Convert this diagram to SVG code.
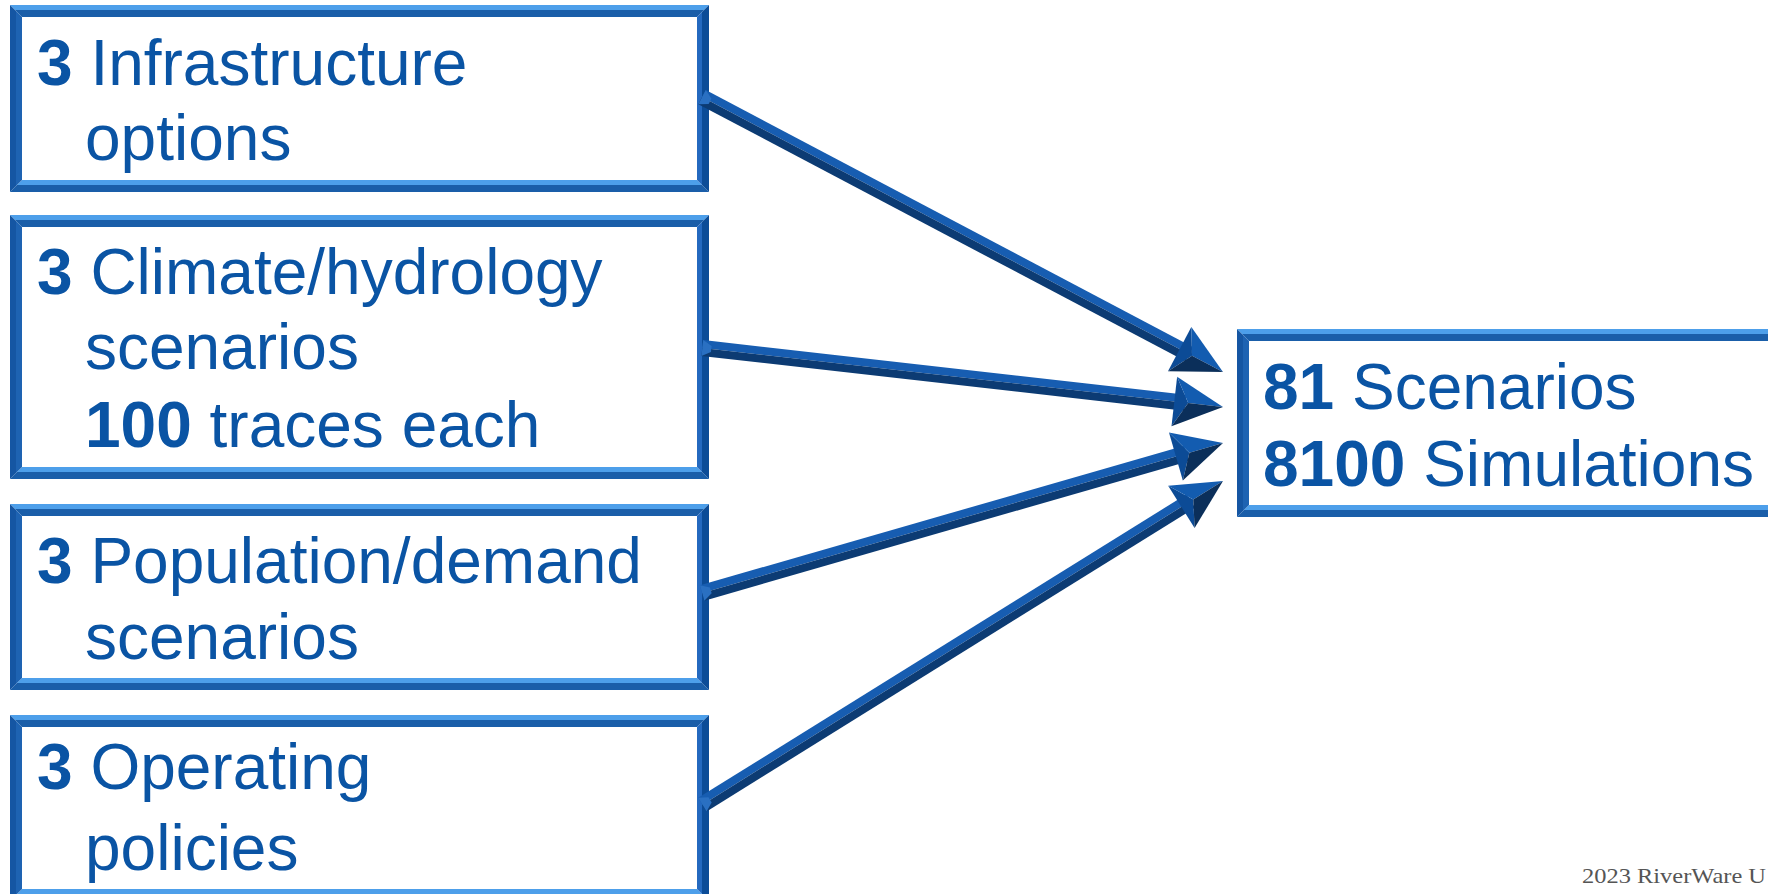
<svg xmlns="http://www.w3.org/2000/svg" width="1768" height="894" viewBox="0 0 1768 894">
<defs>
<linearGradient id="gv" x1="0" y1="0" x2="0" y2="1">
<stop offset="0" stop-color="#4d9fea"/><stop offset="0.45" stop-color="#4d9fea"/>
<stop offset="0.45" stop-color="#1a5ea9"/><stop offset="1" stop-color="#1a5ea9"/>
</linearGradient>
<linearGradient id="gl" x1="0" y1="0" x2="1" y2="0">
<stop offset="0" stop-color="#1556a3"/><stop offset="0.5" stop-color="#1556a3"/>
<stop offset="0.5" stop-color="#1e63b2"/><stop offset="1" stop-color="#1e63b2"/>
</linearGradient>
<linearGradient id="gr" x1="0" y1="0" x2="1" y2="0">
<stop offset="0" stop-color="#2469bf"/><stop offset="0.4" stop-color="#2469bf"/>
<stop offset="0.4" stop-color="#0c4c97"/><stop offset="1" stop-color="#0c4c97"/>
</linearGradient>
<g id="head">
<polygon points="-49,-25 -35,0 -49,25" fill="#0c4b96"/>
<polygon points="-49,-25 0,0 -35,0" fill="#135cb0"/>
<polygon points="-35,0 0,0 -49,25" fill="#0b2f5a"/>
</g>
</defs>
<style>
.h{fill:url(#gv)}
.l{fill:url(#gl)}
.r{fill:url(#gr)}
.in{fill:#ffffff}
.t{font-family:"Liberation Sans",Arial,sans-serif;font-size:64px;fill:#0a54a4}
.b{font-weight:bold}
.su{fill:#175db1}
.sd{fill:#0c3b73}
.cap{fill:#2a70c2}
.c{font-family:"Liberation Serif","DejaVu Serif",serif;font-size:21px;fill:#555555}
</style>
<rect width="1768" height="894" fill="#ffffff"/>

<g id="node-infrastructure">
<rect class="in" x="10" y="5" width="699" height="187"/>
<polygon class="h" points="10,5 709,5 697,17 22,17"/>
<polygon class="h" points="22,180 697,180 709,192 10,192"/>
<polygon class="l" points="10,5 22,17 22,180 10,192"/>
<polygon class="r" points="697,17 709,5 709,192 697,180"/>
<text class="t" x="37" y="85"><tspan class="b">3</tspan> Infrastructure</text>
<text class="t" x="85" y="160">options</text>
</g>

<g id="node-climate">
<rect class="in" x="10" y="215" width="699" height="264"/>
<polygon class="h" points="10,215 709,215 697,227 22,227"/>
<polygon class="h" points="22,467 697,467 709,479 10,479"/>
<polygon class="l" points="10,215 22,227 22,467 10,479"/>
<polygon class="r" points="697,227 709,215 709,479 697,467"/>
<text class="t" x="37" y="294"><tspan class="b">3</tspan> Climate/hydrology</text>
<text class="t" x="85" y="369">scenarios</text>
<text class="t" x="85" y="447"><tspan class="b">100</tspan> traces each</text>
</g>

<g id="node-population">
<rect class="in" x="10" y="504" width="699" height="186"/>
<polygon class="h" points="10,504 709,504 697,516 22,516"/>
<polygon class="h" points="22,678 697,678 709,690 10,690"/>
<polygon class="l" points="10,504 22,516 22,678 10,690"/>
<polygon class="r" points="697,516 709,504 709,690 697,678"/>
<text class="t" x="37" y="583"><tspan class="b">3</tspan> Population/demand</text>
<text class="t" x="85" y="659">scenarios</text>
</g>

<g id="node-operating">
<rect class="in" x="10" y="715" width="699" height="186"/>
<polygon class="h" points="10,715 709,715 697,727 22,727"/>
<polygon class="h" points="22,889 697,889 709,901 10,901"/>
<polygon class="l" points="10,715 22,727 22,889 10,901"/>
<polygon class="r" points="697,727 709,715 709,901 697,889"/>
<text class="t" x="37" y="789"><tspan class="b">3</tspan> Operating</text>
<text class="t" x="85" y="870">policies</text>
</g>

<g id="node-result">
<rect class="in" x="1237" y="329" width="560" height="188"/>
<polygon class="h" points="1237,329 1797,329 1785,341 1249,341"/>
<polygon class="h" points="1249,505 1785,505 1797,517 1237,517"/>
<polygon class="l" points="1237,329 1249,341 1249,505 1237,517"/>
<text class="t" x="1263" y="409"><tspan class="b">81</tspan> Scenarios</text>
<text class="t" x="1263" y="486"><tspan class="b">8100</tspan> Simulations</text>
</g>

<g id="connectors">
<g transform="translate(1223,372) rotate(27.82)">
<polygon class="su" points="-589,-8 -38,-8 -38,0 -589,0"/>
<polygon class="sd" points="-589,0 -38,0 -38,8 -589,8"/>
<polygon class="cap" points="-589,-8 -580,-3 -580,3 -589,8"/>
<use href="#head"/>
</g>
<g transform="translate(1223,407) rotate(6.46)">
<polygon class="su" points="-524,-8 -38,-8 -38,0 -524,0"/>
<polygon class="sd" points="-524,0 -38,0 -38,8 -524,8"/>
<polygon class="cap" points="-524,-8 -515,-3 -515,3 -524,8"/>
<use href="#head"/>
</g>
<g transform="translate(1223,443) rotate(-16.06)">
<polygon class="su" points="-542,-8 -38,-8 -38,0 -542,0"/>
<polygon class="sd" points="-542,0 -38,0 -38,8 -542,8"/>
<polygon class="cap" points="-542,-8 -533,-3 -533,3 -542,8"/>
<use href="#head"/>
</g>
<g transform="translate(1223,481) rotate(-31.87)">
<polygon class="su" points="-613,-8 -38,-8 -38,0 -613,0"/>
<polygon class="sd" points="-613,0 -38,0 -38,8 -613,8"/>
<polygon class="cap" points="-613,-8 -604,-3 -604,3 -613,8"/>
<use href="#head"/>
</g>
</g>

<text class="c" x="1582" y="883" textLength="184" lengthAdjust="spacingAndGlyphs">2023 RiverWare U</text>
</svg>
